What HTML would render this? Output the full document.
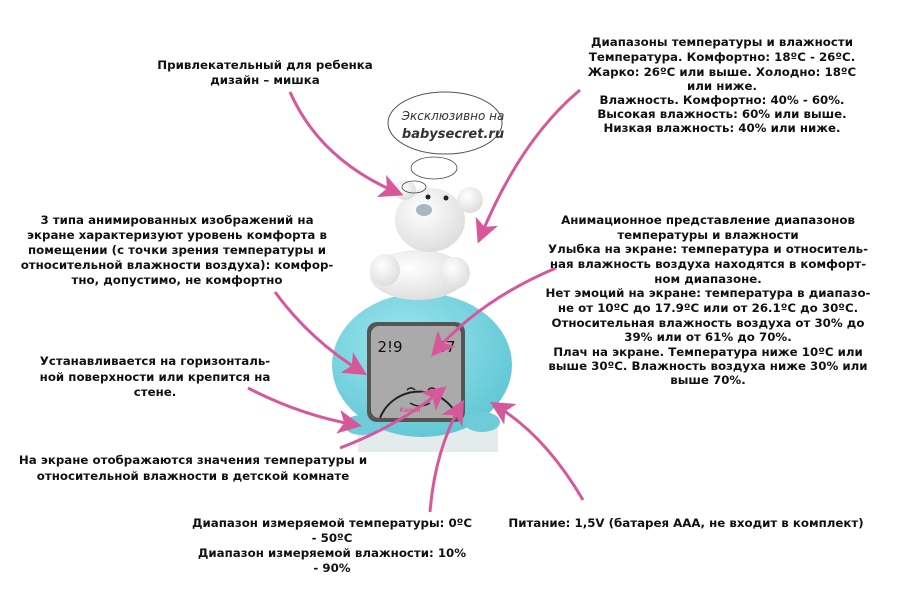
<!DOCTYPE html>
<html><head><meta charset="utf-8"><style>
body{margin:0;background:#fff;width:900px;height:600px;overflow:hidden}
svg text{font-family:"DejaVu Sans","Liberation Sans",sans-serif;font-weight:bold;font-size:11.8px;fill:#111;text-anchor:middle}
</style></head><body>
<svg width="900" height="600" viewBox="0 0 900 600" xmlns="http://www.w3.org/2000/svg">
<defs>
<marker id="a" markerWidth="8" markerHeight="8" refX="6" refY="4" orient="auto" markerUnits="strokeWidth"><path d="M0,0 L8,4 L0,8 L2,4z" fill="#d6589a"/></marker>
<radialGradient id="bl" cx="0.4" cy="0.35" r="0.7"><stop offset="0" stop-color="#9ee6ee"/><stop offset="1" stop-color="#5fc6d4"/></radialGradient>
<radialGradient id="wh" cx="0.4" cy="0.35" r="0.7"><stop offset="0" stop-color="#ffffff"/><stop offset="1" stop-color="#dcdcdc"/></radialGradient>
</defs>
<rect x="358" y="425" width="140" height="27" fill="#e4ebec"/>
<ellipse cx="422" cy="365" rx="90" ry="72" fill="url(#bl)"/>
<ellipse cx="362" cy="425" rx="18" ry="10" fill="#6fcbd8"/>
<ellipse cx="482" cy="422" rx="18" ry="10" fill="#6fcbd8"/>
<rect x="367" y="322" width="98" height="100" rx="10" fill="#555"/>
<rect x="371" y="326" width="90" height="92" rx="8" fill="#aaa"/>
<path d="M380,418 A42,42 0 0 1 458,418" fill="none" stroke="#222" stroke-width="2"/>
<path d="M407,390 q4,-4 8,0 M428,390 q4,-4 8,0 M410,403 q10,6 20,0" fill="none" stroke="#222" stroke-width="1.5"/>
<text x="390" y="352" style="font-size:15px;font-weight:normal">2!9</text>
<text x="446" y="352" style="font-size:15px;font-weight:normal">47</text>
<text x="410" y="412" style="font-size:6px;fill:#d6589a">Kamili</text>
<ellipse cx="418" cy="275" rx="48" ry="25" fill="url(#wh)"/>
<ellipse cx="385" cy="270" rx="15" ry="16" fill="url(#wh)"/>
<ellipse cx="455" cy="273" rx="15" ry="16" fill="url(#wh)"/>
<ellipse cx="430" cy="220" rx="35" ry="32" fill="url(#wh)"/>
<ellipse cx="405" cy="190" rx="11" ry="10" fill="url(#wh)"/>
<ellipse cx="470" cy="200" rx="13" ry="13" fill="url(#wh)"/>
<ellipse cx="424" cy="210" rx="8" ry="6" fill="#a9b6bf"/>
<circle cx="428" cy="197" r="2.5" fill="#222"/><circle cx="446" cy="198" r="2.5" fill="#222"/>
<ellipse cx="434" cy="168" rx="23" ry="11" fill="#fff" stroke="#444" stroke-width="0.8"/>
<ellipse cx="414" cy="187" rx="12" ry="6" fill="none" stroke="#444" stroke-width="0.8"/>
<ellipse cx="445" cy="123" rx="57" ry="31" fill="#fff" stroke="#555" stroke-width="1"/>
<text x="453" y="120" style="font-family:'DejaVu Sans',sans-serif;font-weight:normal;font-style:italic;font-size:12px;fill:#333">Эксклюзивно на</text>
<text x="453" y="138" style="font-style:italic;font-size:13px;fill:#333">babysecret.ru</text>
<g fill="none" stroke="#d6589a" stroke-width="3" marker-end="url(#a)">
<path d="M290,92 Q320,160 398,193"/>
<path d="M580,90 Q520,140 480,238"/>
<path d="M275,292 Q310,340 362,372"/>
<path d="M556,268 Q480,300 435,352"/>
<path d="M248,388 Q300,415 356,425"/>
<path d="M340,448 Q400,425 442,390"/>
<path d="M430,512 Q435,450 461,405"/>
<path d="M583,500 Q545,435 495,405"/>
</g>
<text x="265" y="69">Привлекательный для ребенка</text>
<text x="265" y="84">дизайн – мишка</text>
<g>
<text x="722" y="46">Диапазоны температуры и влажности</text>
<text x="722" y="61">Температура. Комфортно: 18ºC - 26ºC.</text>
<text x="722" y="76">Жарко: 26ºC или выше. Холодно: 18ºC</text>
<text x="722" y="90">или ниже.</text>
<text x="722" y="104">Влажность. Комфортно: 40% - 60%.</text>
<text x="722" y="118">Высокая влажность: 60% или выше.</text>
<text x="722" y="132">Низкая влажность: 40% или ниже.</text>
</g>
<g>
<text x="177" y="224">3 типа анимированных изображений на</text>
<text x="177" y="239">экране характеризуют уровень комфорта в</text>
<text x="177" y="254">помещении (с точки зрения температуры и</text>
<text x="177" y="269">относительной влажности воздуха): комфор-</text>
<text x="177" y="284">тно, допустимо, не комфортно</text>
</g>
<g>
<text x="708" y="224">Анимационное представление диапазонов</text>
<text x="708" y="239">температуры и влажности</text>
<text x="708" y="253">Улыбка на экране: температура и относитель-</text>
<text x="708" y="268">ная влажность воздуха находятся в комфорт-</text>
<text x="708" y="283">ном диапазоне.</text>
<text x="708" y="297">Нет эмоций на экране: температура в диапазо-</text>
<text x="708" y="312">не от 10ºC до 17.9ºC или от 26.1ºC до 30ºC.</text>
<text x="708" y="327">Относительная влажность воздуха от 30% до</text>
<text x="708" y="341">39% или от 61% до 70%.</text>
<text x="708" y="356">Плач на экране. Температура ниже 10ºC или</text>
<text x="708" y="370">выше 30ºC. Влажность воздуха ниже 30% или</text>
<text x="708" y="384">выше 70%.</text>
</g>
<text x="155" y="365">Устанавливается на горизонталь-</text>
<text x="155" y="381">ной поверхности или крепится на</text>
<text x="155" y="396">стене.</text>
<text x="193" y="464">На экране отображаются значения температуры и</text>
<text x="193" y="480">относительной влажности в детской комнате</text>
<text x="332" y="527">Диапазон измеряемой температуры: 0ºC</text>
<text x="332" y="542">- 50ºC</text>
<text x="332" y="557">Диапазон измеряемой влажности: 10%</text>
<text x="332" y="572">- 90%</text>
<text x="686" y="527">Питание: 1,5V (батарея ААА, не входит в комплект)</text>
</svg>
</body></html>
